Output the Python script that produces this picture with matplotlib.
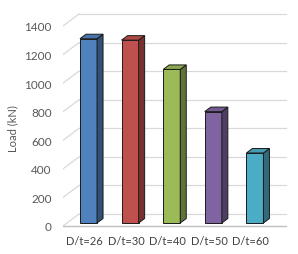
import numpy as np
import matplotlib.pyplot as plt
from matplotlib.patches import Polygon
from matplotlib.colors import to_rgb

# data
categories = ['D/t=26', 'D/t=30', 'D/t=40', 'D/t=50', 'D/t=60']
loads = [1290, 1280, 1075, 780, 490]
colors = ['#4F81BD', '#C0504D', '#9BBB59', '#8064A2', '#4BACC6']
yticks = [0, 200, 400, 600, 800, 1000, 1200, 1400]

plt.rcParams['font.family'] = ['Lato', 'DejaVu Sans']

# oblique "3D" look: full depth shift in data units
DX, DY = 0.385, 84
d0, d1 = 0.25, 0.625       # bar front / back depth
w = 0.41                   # bar width
x_left, x_right = -0.517, 4.844


def darken(c, f):
    r, g, b = to_rgb(c)
    return (r * f, g * f, b * f)


fig = plt.figure(figsize=(2.98, 2.55), dpi=100)
ax = fig.add_axes([63 / 298, 23 / 255, 235 / 298, 232 / 255])
ax.set_xlim(-0.517, 5.132)
ax.set_ylim(-35, 1589)

grid_c = '#d9d9d9'
for v in yticks:
    # side wall diagonal + back wall line
    ax.plot([x_left, x_left + DX], [v, v + DY], color=grid_c, lw=0.9, zorder=1)
    if v > 0:
        ax.plot([x_left + DX, x_right], [v + DY, v + DY], color=grid_c, lw=0.9, zorder=1)
# floor
ax.plot([x_left + DX, x_right], [DY, DY], color=grid_c, lw=0.9, zorder=1)
ax.plot([x_left, x_right], [0, 0], color='#bfbfbf', lw=1.0, zorder=1)

xs = np.arange(len(categories))
for i, (v, c) in enumerate(zip(loads, colors)):
    xf = xs[i] + d0 * DX
    yb = d0 * DY
    ax.bar(xf, v, width=w, bottom=yb, color=c, edgecolor='#1a1a1a', lw=0.7, zorder=3)
    right = xf + w / 2
    left = xf - w / 2
    sx, sy = (d1 - d0) * DX, (d1 - d0) * DY
    side = Polygon([(right, yb), (right + sx, yb + sy), (right + sx, yb + v + sy), (right, yb + v)],
                   closed=True, facecolor=darken(c, 0.62), edgecolor='#1a1a1a', lw=0.7, zorder=3)
    top = Polygon([(left, yb + v), (right, yb + v), (right + sx, yb + v + sy), (left + sx, yb + v + sy)],
                  closed=True, facecolor=darken(c, 0.9), edgecolor='#1a1a1a', lw=0.7, zorder=3)
    ax.add_patch(side)
    ax.add_patch(top)

ax.set_yticks(yticks)
ax.set_xticks(xs)
ax.set_xticklabels(categories)
ax.tick_params(axis='y', length=0, pad=8, labelsize=8.5, labelcolor='#595959')
ax.tick_params(axis='x', length=0, pad=3, labelsize=8, labelcolor='#404040')
for s in ax.spines.values():
    s.set_visible(False)
ax.patch.set_alpha(0)

fig.text(13 / 298, 1 - 129 / 255, 'Load (kN)', rotation=90, ha='center', va='center',
         fontsize=8, color='#595959')

fig.savefig('out.png', dpi=100)
